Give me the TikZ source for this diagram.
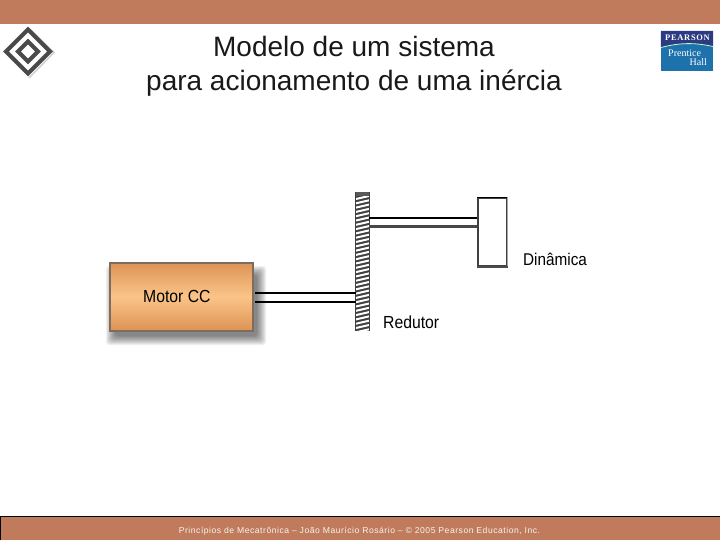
\documentclass[tikz,border=0pt]{standalone}
\usepackage{fontspec}
\setmainfont{Liberation Sans}
\newfontfamily\serifx{Liberation Serif}
\newfontfamily\footx[LetterSpace=6]{Liberation Sans}
\newfontfamily\pearsonx[LetterSpace=8]{Liberation Serif}
\usetikzlibrary{calc}
\definecolor{band}{HTML}{C07B5C}
\definecolor{logogray}{HTML}{4A4A4A}
\definecolor{navy}{HTML}{2B3A82}
\definecolor{pblue}{HTML}{1E72AC}
\definecolor{motorA}{HTML}{DD9355}
\definecolor{motorB}{HTML}{FBC488}
\definecolor{motorE}{HTML}{7E6C5C}
\tikzset{
 shaft/.style={line width=2pt,draw=black},
 shaftb/.style={line width=3pt,draw=black!72},
 lbl/.style={font=\fontsize{17.5}{17}\selectfont,text=black,inner sep=0pt,anchor=west,xscale=0.9},
 dia/.style={draw=logogray,line width=4pt,fill=white,line join=miter},
}
\begin{document}
\begin{tikzpicture}[x=1pt,y=-1pt]
\useasboundingbox (0,0) rectangle (720,540);
\fill[white] (0,0) rectangle (720,540);
% bands
\fill[band] (0,0) rectangle (720,24.5);
\fill[band] (0,516) rectangle (720,540);
\draw[black,line width=1pt] (0.5,540) -- (0.5,516.5) -- (720,516.5);
% logo
\draw[black!18,line width=1.5pt] (31,30) -- (54,52.5) -- (29,78);
\draw[dia] (28,29.5) -- (50,51.5) -- (28,73.5) -- (6,51.5) -- cycle;
\draw[dia] (28,41.5) -- (38,51.5) -- (28,61.5) -- (18,51.5) -- cycle;
% title
\node[font=\fontsize{28}{34.5}\selectfont,align=center,text=black!90,inner sep=0pt] (title) at (354,66.5) {Modelo de um sistema\\para acionamento de uma inércia};
% pearson logo
\node[fill=pblue,minimum width=52pt,minimum height=40pt,inner sep=0pt] (pbox) at (687,51) {};
\fill[navy] (pbox.north west) -- (pbox.north east) -- (713,46.5) .. controls (695,42.5) and (680,42.5) .. (661,47.5) -- cycle;
\draw[white!75!green,line width=0.8pt] (661,47.5) .. controls (680,42.5) and (695,42.5) .. (713,46.5);
\node[text=white,inner sep=0pt,font=\pearsonx\bfseries\fontsize{8.5}{8}\selectfont] (pearson) at (687.5,37.5) {PEARSON};
\node[text=white,inner sep=0pt,anchor=west,font=\serifx\fontsize{10}{10}\selectfont] (prentice) at (668,53.5) {Prentice};
\node[text=white,inner sep=0pt,anchor=west,font=\serifx\fontsize{10}{10}\selectfont] (hall) at (689.5,62.5) {Hall};
% motor shadow
\foreach \i in {0,...,9}{
  \fill[black,opacity=0.06,rounded corners=3pt] ({106+\i},{266+\i}) rectangle ({266-\i},{345-\i});
}
% motor
\node[draw=motorE,line width=2pt,minimum width=143pt,minimum height=68pt,inner sep=0pt,
  top color=motorA,bottom color=motorA,middle color=motorB] (motor) at (181,296.5) {};
\node[lbl,font=\fontsize{17.5}{17}\selectfont] (motorlbl) at (143,296) {Motor CC};
% gear
\node[minimum width=13pt,minimum height=139pt,inner sep=0pt,fill=white] (gear) at (362.5,261.5) {};
\begin{scope}
\clip (gear.south west) rectangle (gear.north east);
\fill[black!75] (gear.south west) rectangle (gear.north east);
\foreach \i in {0,...,31}{
  \draw[white,line width=2pt] (356,{196+\i*4.3+3}) -- (369,{196+\i*4.3});
}
\end{scope}
\fill[black!65] (gear.north west) rectangle ($(gear.north east)+(0,4)$);
\draw[black!75,line width=1.2pt] (gear.north west) -- (gear.south west);
\draw[black!75,line width=1.2pt] (gear.north east) -- (gear.south east);
% dynamic box
\node[draw=black!75,line width=1.2pt,fill=white,minimum width=29pt,minimum height=68pt,inner sep=0pt] (dyn) at (492.5,232) {};
\draw[black,line width=1.6pt] (dyn.north west) -- (dyn.north east);
\draw[black!35,line width=1.5pt] (dyn.north east) -- (dyn.south east);
\draw[black!70,line width=1.8pt] (dyn.south west) -- (dyn.south east);
% shafts
\coordinate (m1) at ($(motor.east)+(1,-3.8)$);
\coordinate (m2) at ($(motor.east)+(1,5.2)$);
\draw[shaft] (m1) -- (m1 -| gear.west);
\draw[shaft] (m2) -- (m2 -| gear.west);
\coordinate (g1) at ($(gear.east)+(0,-43)$);
\coordinate (g2) at ($(gear.east)+(0,-34.5)$);
\draw[shaft] (g1) -- (g1 -| dyn.west);
\draw[shaftb] (g2) -- (g2 -| dyn.west);
% labels
\node[lbl] (redutor) at (383,322.5) {Redutor};
\node[lbl,font=\fontsize{17}{17}\selectfont] (dinamica) at (523,259.5) {Dinâmica};
% footer
\node[text=white!90!band,inner sep=0pt,font=\footx\fontsize{8.6}{9}\selectfont] (foot) at (359.5,531) {Princípios de Mecatrônica – João Maurício Rosário – © 2005 Pearson Education, Inc.};
\end{tikzpicture}
\end{document}
